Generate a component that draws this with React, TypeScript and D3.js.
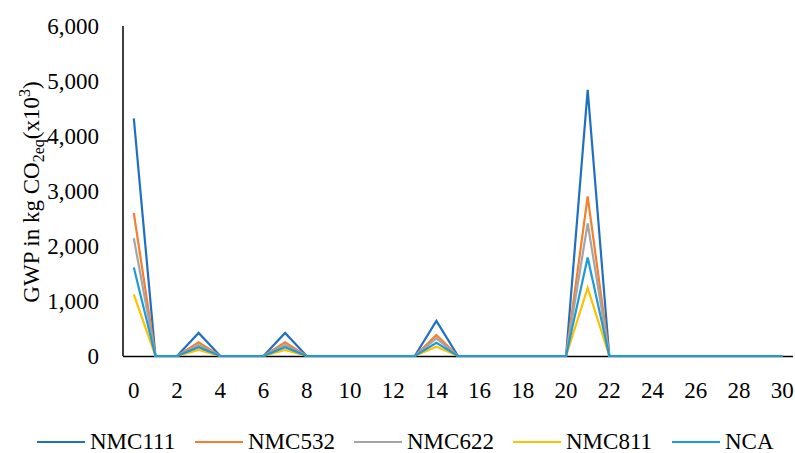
import * as d3 from "d3";

const categories = d3.range(0, 31);
const seriesNames = ["NMC111", "NMC532", "NMC622", "NMC811", "NCA"];
const colors = ["#1f70c4", "#f47f30", "#a5a5a5", "#ffc000", "#1c9bd8"];

// index:        0    1  2  3    4  5  6  7    8  9 10 11 12 13 14   15 16 17 18 19 20 21    22 23 24 25 26 27 28 29 30
const nmc111 = [4320, 0, 0, 420, 0, 0, 0, 420, 0, 0, 0, 0, 0, 0, 640, 0, 0, 0, 0, 0, 0, 4840, 0, 0, 0, 0, 0, 0, 0, 0, 0];
const nmc532 = [2600, 0, 0, 250, 0, 0, 0, 250, 0, 0, 0, 0, 0, 0, 380, 0, 0, 0, 0, 0, 0, 2900, 0, 0, 0, 0, 0, 0, 0, 0, 0];
const nmc622 = [2140, 0, 0, 200, 0, 0, 0, 200, 0, 0, 0, 0, 0, 0, 320, 0, 0, 0, 0, 0, 0, 2410, 0, 0, 0, 0, 0, 0, 0, 0, 0];
const nmc811 = [1120, 0, 0, 110, 0, 0, 0, 110, 0, 0, 0, 0, 0, 0, 170, 0, 0, 0, 0, 0, 0, 1240, 0, 0, 0, 0, 0, 0, 0, 0, 0];
const nca = [1610, 0, 0, 160, 0, 0, 0, 160, 0, 0, 0, 0, 0, 0, 240, 0, 0, 0, 0, 0, 0, 1790, 0, 0, 0, 0, 0, 0, 0, 0, 0];
const yTicks = [0, 1000, 2000, 3000, 4000, 5000, 6000];

const series = [nmc111, nmc532, nmc622, nmc811, nca];
const font = "'Liberation Serif', 'DejaVu Serif', serif";

export default function App() {
  const width = 795;
  const height = 453;
  const left = 123;
  const right = 793;
  const top = 26;
  const bottom = 356;

  const x = d3
    .scaleBand<number>()
    .domain(categories)
    .range([left, right]);
  const cx = (i: number) => x(i)! + x.bandwidth() / 2;
  const y = d3.scaleLinear().domain([0, 6000]).range([bottom, top]);
  const fmt = d3.format(",");

  const line = d3
    .line<number>()
    .x((_, i) => cx(i))
    .y((d) => y(d));

  // legend layout
  const legendY = 442;
  const legendX = [37, 195, 354, 513, 672];
  const fs = 23;

  return (
    <svg
      width={width}
      height={height}
      style={{ position: "absolute", left: 0, top: 0, background: "#fff" }}
    >
      {/* axes */}
      <line x1={left} x2={left} y1={top} y2={bottom} stroke="#000" strokeWidth={1.5} />
      <line x1={left} x2={right} y1={bottom + 0.5} y2={bottom + 0.5} stroke="#000" strokeWidth={1.5} />

      {yTicks.map((t) => (
        <text key={t} x={99} y={y(t)} dy="0.35em" textAnchor="end" fontSize={fs} fontFamily={font} fill="#000">
          {fmt(t)}
        </text>
      ))}

      {categories
        .filter((c) => c % 2 === 0)
        .map((c) => (
          <text key={c} x={cx(c)} y={390} dy="0.35em" textAnchor="middle" fontSize={fs} fontFamily={font} fill="#000">
            {c}
          </text>
        ))}

      <text
        transform={`translate(39,192) rotate(-90)`}
        textAnchor="middle"
        fontSize={fs}
        fontFamily={font}
        fill="#000"
      >
        GWP in kg CO
        <tspan fontSize={16} dy={5}>2eq</tspan>
        <tspan dy={-5}>(x10</tspan>
        <tspan fontSize={16} dy={-9}>3</tspan>
        <tspan dy={9}>)</tspan>
      </text>

      {series.map((s, k) => (
        <path
          key={seriesNames[k]}
          d={line(s)!}
          fill="none"
          stroke={colors[k]}
          strokeWidth={2.2}
          strokeLinejoin="miter"
        />
      ))}

      {seriesNames.map((name, k) => (
        <g key={name}>
          <line
            x1={legendX[k]}
            x2={legendX[k] + 48}
            y1={legendY}
            y2={legendY}
            stroke={colors[k]}
            strokeWidth={2.2}
          />
          <text x={legendX[k] + 53} y={legendY - 1} dy="0.35em" fontSize={fs} fontFamily={font} fill="#000">
            {name}
          </text>
        </g>
      ))}
    </svg>
  );
}
